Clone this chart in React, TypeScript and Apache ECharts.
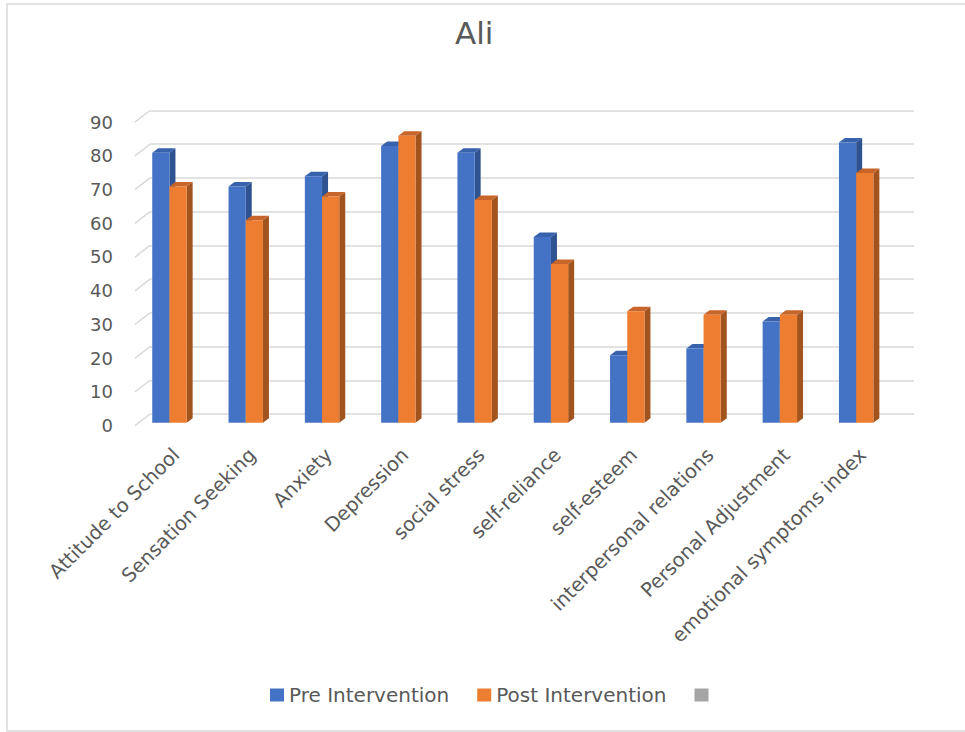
import React, { useEffect, useRef } from "react";
import * as echarts from "echarts";

const categories = [
  "Attitude to School",
  "Sensation Seeking",
  "Anxiety",
  "Depression",
  "social stress",
  "self-reliance",
  "self-esteem",
  "interpersonal relations",
  "Personal Adjustment",
  "emotional symptoms index",
];
const preValues = [80, 70, 73, 82, 80, 55, 20, 22, 30, 83];
const postValues = [70, 60, 67, 85, 66, 47, 33, 32, 32, 74];
const yTicks = [0, 10, 20, 30, 40, 50, 60, 70, 80, 90];
const seriesNames = ["Pre Intervention", "Post Intervention", " "];

const FONT = "'DejaVu Sans', 'Open Sans', sans-serif";
const TEXT = "#595959";
const GRIDC = "#d9d9d9";

const palette = [
  { front: "#4472c4", side: "#2f5290", top: "#3862ac" },
  { front: "#ed7d31", side: "#a2541f", top: "#c8652a" },
];

const DX = 6;
const DY = 4.5;

function barRenderer(which: number) {
  return (params: any, api: any) => {
    const idx = api.value(0);
    const val = api.value(1);
    const base = api.coord([idx, 0]);
    const top = api.coord([idx, val]);
    const band = api.size([1, 0])[0];
    const w = band * 0.2255;
    const x0 = which === 0 ? base[0] - w : base[0];
    const x1 = x0 + w;
    const c = palette[which];
    return {
      type: "group",
      children: [
        {
          type: "polygon",
          shape: {
            points: [
              [x1, top[1]],
              [x1 + DX, top[1] - DY],
              [x1 + DX, base[1] - DY],
              [x1, base[1]],
            ],
          },
          style: { fill: c.side },
        },
        {
          type: "polygon",
          shape: {
            points: [
              [x0, top[1]],
              [x0 + DX, top[1] - DY],
              [x1 + DX, top[1] - DY],
              [x1, top[1]],
            ],
          },
          style: { fill: c.top },
        },
        {
          type: "rect",
          shape: { x: x0, y: top[1], width: w, height: base[1] - top[1] },
          style: { fill: c.front },
        },
      ],
    };
  };
}

export default function App() {
  const ref = useRef<HTMLDivElement>(null);
  useEffect(() => {
    if (!ref.current) return;
    const chart = echarts.init(ref.current, null, { renderer: "svg" });
    const hidden = {
      axisLine: { show: false },
      axisTick: { show: false },
      axisLabel: { show: false },
      splitLine: { show: false },
    };
    chart.setOption({
      animation: false,
      backgroundColor: "#ffffff",
      title: {
        text: "Ali",
        left: 450,
        top: 12,
        textStyle: { fontFamily: FONT, fontSize: 31, fontWeight: "normal", color: TEXT },
      },
      legend: {
        left: 265,
        top: 680,
        itemWidth: 14,
        itemHeight: 13,
        itemGap: 28,
        icon: "rect",
        data: seriesNames,
        textStyle: { fontFamily: FONT, fontSize: 20, color: TEXT },
        selectedMode: false,
      },
      graphic: [
        {
          type: "rect",
          shape: { x: 7, y: 4, width: 970, height: 727 },
          style: { fill: "none", stroke: GRIDC, lineWidth: 1.5 },
          silent: true,
        },
      ],
      grid: [
        { left: 131.3, right: 70.7, top: 118.95, bottom: 309.3 },
        { left: 135, right: 66, top: 122, bottom: 306.3 },
        { left: 150, right: 51, top: 110.5, bottom: 318 },
        { left: 138, right: 64, top: 118.95, bottom: 309.3 },
      ],
      xAxis: [
        { type: "category", gridIndex: 0, data: categories, ...hidden },
        { type: "value", gridIndex: 1, min: 0, max: 1, ...hidden },
        { type: "value", gridIndex: 2, min: 0, max: 1, ...hidden },
        {
          type: "category",
          gridIndex: 3,
          data: categories,
          axisLine: { show: false },
          axisTick: { show: false },
          splitLine: { show: false },
          axisLabel: {
            show: true,
            interval: 0,
            rotate: 45,
            margin: 29,
            fontFamily: FONT,
            fontSize: 19.5,
            color: TEXT,
          },
        },
      ],
      yAxis: [
        { type: "value", gridIndex: 0, min: 0, max: 90, interval: 10, ...hidden },
        {
          type: "value",
          gridIndex: 1,
          min: 0,
          max: 90,
          interval: 10,
          axisLine: { show: false },
          axisTick: { show: false },
          splitLine: { show: false },
          axisLabel: { show: true, margin: 22, fontFamily: FONT, fontSize: 18, color: TEXT },
        },
        {
          type: "value",
          gridIndex: 2,
          min: 0,
          max: 90,
          interval: 10,
          axisLine: { show: false },
          axisTick: { show: false },
          axisLabel: { show: false },
          splitLine: { show: true, lineStyle: { color: GRIDC, width: 1.5 } },
        },
        { type: "value", gridIndex: 3, min: 0, max: 90, interval: 10, ...hidden },
      ],
      series: [
        {
          type: "custom",
          name: "wall",
          xAxisIndex: 2,
          yAxisIndex: 2,
          silent: true,
          data: yTicks.map((v) => [0, v]),
          encode: { x: 0, y: 1 },
          renderItem: (params: any, api: any) => {
            const p = api.coord([0, api.value(1)]);
            return {
              type: "line",
              shape: { x1: p[0] - 15, y1: p[1] + 11.7, x2: p[0], y2: p[1] },
              style: { stroke: GRIDC, lineWidth: 1.5 },
            };
          },
        },
        {
          type: "custom",
          name: seriesNames[0],
          xAxisIndex: 0,
          yAxisIndex: 0,
          itemStyle: { color: palette[0].front },
          data: preValues.map((v, i) => [i, v]),
          encode: { x: 0, y: 1 },
          renderItem: barRenderer(0),
        },
        {
          type: "custom",
          name: seriesNames[1],
          xAxisIndex: 0,
          yAxisIndex: 0,
          itemStyle: { color: palette[1].front },
          data: postValues.map((v, i) => [i, v]),
          encode: { x: 0, y: 1 },
          renderItem: barRenderer(1),
        },
        {
          type: "custom",
          name: seriesNames[2],
          xAxisIndex: 0,
          yAxisIndex: 0,
          itemStyle: { color: "#a5a5a5" },
          data: [],
          renderItem: () => null,
        },
      ],
    });
    return () => chart.dispose();
  }, []);
  return (
    <div
      ref={ref}
      style={{ position: "absolute", left: 0, top: 0, width: 965, height: 732 }}
    />
  );
}
